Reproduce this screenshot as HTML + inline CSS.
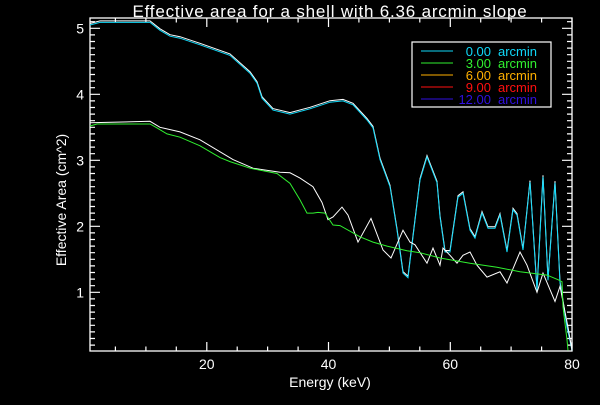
<!DOCTYPE html>
<html><head><meta charset="utf-8"><style>
body{margin:0;background:#000;width:600px;height:400px;overflow:hidden}
svg text{font-family:"Liberation Sans",sans-serif;fill:#fff}
</style></head><body>
<svg id="chart" width="600" height="400" viewBox="0 0 600 400">
<rect width="600" height="400" fill="#000"/>
<text x="330" y="17" font-size="17" text-anchor="middle" letter-spacing="0.8">Effective area for a shell with 6.36 arcmin slope</text>
<text x="330" y="387" font-size="14" text-anchor="middle">Energy (keV)</text>
<text transform="translate(66,200) rotate(-90)" font-size="14" text-anchor="middle">Effective Area (cm^2)</text>
<g id="axes"></g><g id="series"></g><g id="legend"></g>
</svg>
<script>
const cyanE=[0.82,2.46,10.68,12.32,13.96,15.61,18.89,23.82,27.1,28.25,29.08,30.88,33.68,36.96,40.25,42.38,44.03,46.33,47.31,48.46,50.1,51.25,52.24,53.06,55.03,56.18,57.82,58.32,59.14,59.96,61.27,62.09,63.24,64.07,65.22,66.2,67.35,68.17,69.32,70.31,70.97,71.95,73.1,74.25,75.24,76.06,77.21,78.03,79.18,80];
const cyanV=[5.05,5.09,5.09,4.97,4.88,4.85,4.75,4.59,4.32,4.17,3.94,3.76,3.70,3.78,3.88,3.90,3.84,3.61,3.49,3.01,2.60,1.94,1.29,1.22,2.70,3.05,2.66,2.14,1.61,1.61,2.44,2.50,1.94,1.82,2.20,1.97,1.97,2.17,1.61,2.25,2.17,1.64,2.67,1.03,2.75,1.18,2.66,1.14,0.47,0.12];
const greenE=[0.82,1.97,10.68,11.83,13.47,15.61,18.89,22.18,23.82,27.1,31.54,33.68,35.32,36.47,37.45,38.28,39.43,40.74,41.89,45.17,47.31,49.61,52.9,55.03,58.32,63.24,67.68,71.46,75.89,77.7,78.36,78.52,79.18,79.34];
const greenV=[3.52,3.55,3.55,3.49,3.40,3.35,3.22,3.04,2.98,2.88,2.80,2.65,2.40,2.20,2.20,2.21,2.20,2.02,2.01,1.84,1.76,1.70,1.63,1.60,1.52,1.44,1.38,1.31,1.26,1.19,1.16,0.78,0.28,0.12];
const whiteE=[0.82,10.68,12.32,15.61,18.89,24.31,27.6,32.03,33.68,35.32,37.45,38.93,39.92,40.74,42.22,43.2,44.85,46.98,48.95,50.27,52.24,53.39,54.21,56.18,57.17,58.32,58.81,59.96,61.11,62.09,63.24,64.39,66.04,68.17,69.32,71.46,72.61,74.25,75.24,77.21,78.03,79.34,80];
const whiteV=[3.57,3.59,3.50,3.43,3.31,3.01,2.88,2.82,2.81,2.73,2.60,2.36,2.10,2.14,2.29,2.17,1.76,2.12,1.64,1.52,1.94,1.76,1.72,1.44,1.67,1.41,1.67,1.56,1.44,1.56,1.61,1.41,1.23,1.31,1.14,1.61,1.41,1.00,1.29,0.86,1.09,0.47,0.12];
const xTicks=[20,40,60,80];
const yTicks=[1,2,3,4,5];
const legendNums=["0.00","3.00","6.00","9.00","12.00"];
const legendColors=["#10d8f8","#30f030","#ffb000","#ff1010","#3010e0"];

const X0=90,X1=572,Y0=351,Y1=18,xmin=0.82,xmax=80,ymin=0.11,ymax=5.156;
const sx=v=>X0+(v-xmin)/(xmax-xmin)*(X1-X0);
const sy=v=>Y0-(v-ymin)/(ymax-ymin)*(Y0-Y1);
const NS="http://www.w3.org/2000/svg";
function mk(tag,attrs,parent){const e=document.createElementNS(NS,tag);for(const k in attrs)e.setAttribute(k,attrs[k]);parent.appendChild(e);return e;}
const axes=document.getElementById('axes');
const frame=mk('rect',{x:X0,y:Y1,width:X1-X0,height:Y0-Y1,fill:'none',stroke:'#fff','stroke-width':1.3},axes);


let d='';
for(let v=5;v<=80;v+=5){const x=sx(v).toFixed(1);const L=(v%20===0)?9:4.5;d+=`M${x} ${Y0}v${-L}M${x} ${Y1}v${L}`;}
for(let i=2;i<=51;i++){const v=i/10;const y=sy(v).toFixed(1);const L=(i%10===0)?10:5;d+=`M${X0} ${y}h${L}M${X1} ${y}h${-L}`;}
const tk=mk('path',{d:d,stroke:'#fff','stroke-width':1.2,fill:'none'},axes);


xTicks.forEach(v=>{const t=mk('text',{x:sx(v),y:369,'font-size':14,'text-anchor':'middle'},axes);t.textContent=v;

});
yTicks.forEach(v=>{const t=mk('text',{x:84,y:sy(v)+5,'font-size':14,'text-anchor':'end'},axes);t.textContent=v;

});
const ser=document.getElementById('series');
function line(E,V,color,name,dx,dy){const pts=E.map((e,i)=>(sx(e)+dx).toFixed(1)+','+(sy(V[i])+dy).toFixed(1)).join(' ');
const p=mk('polyline',{points:pts,fill:'none',stroke:color,'stroke-width':1},ser);

}
line(cyanE,cyanV,'#ffffff','series-white-upper',0,-1.5);
line(cyanE,cyanV,'#10d8f8','series-0-arcmin',0,0);
line(whiteE,whiteV,'#ffffff','series-white-lower',0,0);
line(greenE,greenV,'#30f030','series-3-arcmin',0,0);
const lg=document.getElementById('legend');
const box=mk('rect',{x:412,y:42,width:139,height:65,fill:'#000',stroke:'#fff','stroke-width':1.2},lg);


legendNums.forEach((s,i)=>{const y=51+i*12;
const l=mk('line',{x1:421,x2:453,y1:y,y2:y,stroke:legendColors[i],'stroke-width':1},lg);


const t=mk('text',{x:491,y:y+5,'font-size':13,'text-anchor':'end',style:'fill:'+legendColors[i]},lg);t.textContent=s;


const u=mk('text',{x:498,y:y+5,'font-size':13,style:'fill:'+legendColors[i]},lg);u.textContent='arcmin';

});
</script>
</body></html>
